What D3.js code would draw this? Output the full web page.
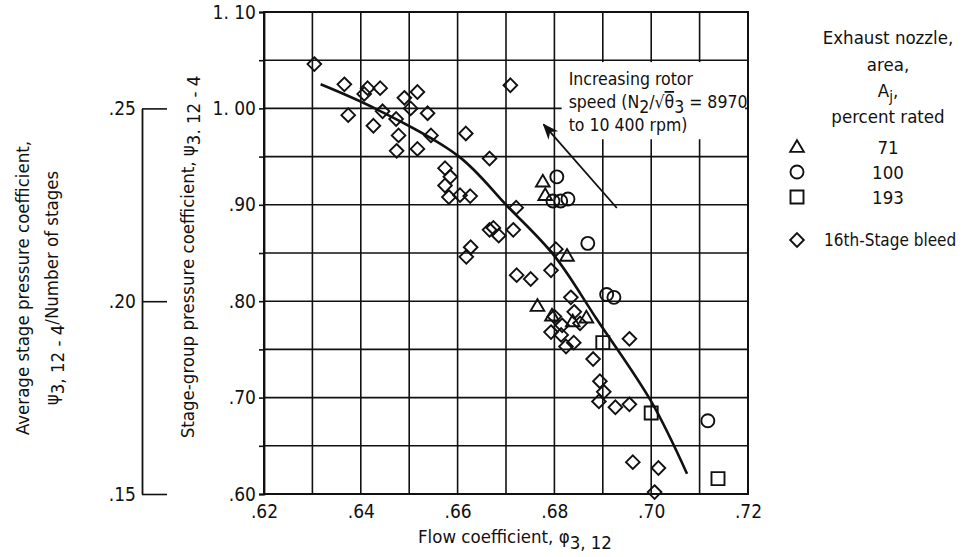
<!DOCTYPE html>
<html>
<head>
<meta charset="utf-8">
<script src="https://cdn.jsdelivr.net/npm/d3@7"></script>
<style>
  body { margin: 0; background: #fff; }
  svg text { font-family: "Liberation Sans Narrow", "DejaVu Sans Condensed", "Arial Narrow", sans-serif; fill: #111; }
</style>
</head>
<body>
<div id="chart"></div>
<script>
// exhaust nozzle area 71 % rated (triangles)
const nozzle71 = [[0.6776, 0.924], [0.6781, 0.910], [0.6826, 0.847], [0.6765, 0.795],
  [0.6795, 0.785], [0.6838, 0.779], [0.6866, 0.783]];
// 100 % rated (circles)
const nozzle100 = [[0.6805, 0.929], [0.6797, 0.904], [0.6813, 0.904], [0.6828, 0.906],
  [0.6869, 0.860], [0.6908, 0.807], [0.6923, 0.804], [0.7117, 0.676]];
// 193 % rated (squares)
const nozzle193 = [[0.6900, 0.757], [0.7000, 0.684], [0.7138, 0.616]];
// 16th-stage bleed (diamonds)
const bleed16 = [
  [0.6304, 1.046], [0.6366, 1.025], [0.6414, 1.021], [0.6407, 1.015], [0.6440, 1.021],
  [0.6490, 1.011], [0.6517, 1.017], [0.6503, 1.000], [0.6538, 0.995], [0.6374, 0.993],
  [0.6445, 0.997], [0.6473, 0.989], [0.6426, 0.982], [0.6545, 0.972], [0.6617, 0.974],
  [0.6478, 0.972], [0.6474, 0.956], [0.6517, 0.958], [0.6666, 0.948], [0.6574, 0.938],
  [0.6709, 1.024], [0.6585, 0.929], [0.6574, 0.920], [0.6582, 0.908], [0.6605, 0.910],
  [0.6626, 0.909], [0.6721, 0.897], [0.6666, 0.874], [0.6674, 0.876], [0.6685, 0.868],
  [0.6715, 0.874], [0.6627, 0.856], [0.6618, 0.846], [0.6722, 0.827], [0.6803, 0.854],
  [0.6793, 0.832], [0.6751, 0.823], [0.6834, 0.804], [0.6841, 0.789], [0.6793, 0.768],
  [0.6814, 0.765], [0.6824, 0.753], [0.6840, 0.757], [0.6853, 0.777], [0.6816, 0.775],
  [0.6800, 0.784], [0.6955, 0.761], [0.6880, 0.740], [0.6894, 0.717], [0.6902, 0.706],
  [0.6892, 0.696], [0.6926, 0.690], [0.6955, 0.693], [0.6962, 0.633], [0.7015, 0.627],
  [0.7007, 0.602]];
// faired curve
const curveFlow = [0.6317, 0.6433, 0.6603, 0.6702, 0.6800, 0.6888, 0.7000, 0.7074];
const curvePsi = [1.025, 0.999, 0.950, 0.899, 0.847, 0.781, 0.696, 0.621];
// rotor speed arrow (tail, head) and its label box
const arrowFlow = [0.6929, 0.6778];
const arrowPsi = [0.8967, 0.9832];
const noteBoxFlow = [0.6815, 0.7194];
const noteBoxPsi = [1.048, 0.968];

const xTicks = [0.62, 0.64, 0.66, 0.68, 0.70, 0.72];
const yTicks = [0.60, 0.70, 0.80, 0.90, 1.00, 1.10];
const y2Ticks = [0.15, 0.20, 0.25];

const width = 968, height = 557;
const plotLeft = 264, plotRight = 748, plotTop = 12, plotBottom = 494;
const fs = 18.5;

const svg = d3.select('#chart').append('svg')
  .attr('width', width)
  .attr('height', height);

const x = d3.scaleLinear().domain([0.62, 0.72]).range([plotLeft, plotRight]);
const y = d3.scaleLinear().domain([0.60, 1.10]).range([plotBottom, plotTop]);
// average stage coefficient = group coefficient / 4 stages
const y2 = d3.scaleLinear().domain([0.15, 0.25]).range([y(0.60), y(1.00)]);

const ink = '#111';

// grid
const grid = svg.append('g').attr('stroke', ink).attr('stroke-width', 1.6);
grid.selectAll('line.v')
  .data(d3.range(0, 11).map(i => 0.62 + i * 0.01))
  .enter().append('line')
  .attr('class', 'v')
  .attr('x1', d => x(d)).attr('x2', d => x(d))
  .attr('y1', plotTop).attr('y2', plotBottom);
grid.selectAll('line.h')
  .data(d3.range(0, 11).map(i => 0.60 + i * 0.05))
  .enter().append('line')
  .attr('class', 'h')
  .attr('y1', d => y(d)).attr('y2', d => y(d))
  .attr('x1', plotLeft).attr('x2', plotRight);
svg.append('rect')
  .attr('x', plotLeft).attr('y', plotTop)
  .attr('width', plotRight - plotLeft).attr('height', plotBottom - plotTop)
  .attr('fill', 'none').attr('stroke', ink).attr('stroke-width', 2);

// axes
const fmt = d => d >= 1 ? d.toFixed(2).replace('.', '. ') : d.toFixed(2).slice(1);

const xAxis = svg.append('g')
  .attr('transform', `translate(0,${plotBottom})`)
  .call(d3.axisBottom(x).tickValues(xTicks).tickSize(0).tickPadding(11).tickFormat(fmt));

const yAxis = svg.append('g')
  .attr('transform', `translate(${plotLeft},0)`)
  .call(d3.axisLeft(y).tickValues(d3.range(0, 11).map(i => 0.60 + i * 0.05))
    .tickSize(5).tickPadding(3)
    .tickFormat(d => yTicks.some(t => Math.abs(t - d) < 1e-6) ? fmt(d) : ''));

const y2Axis = svg.append('g')
  .attr('transform', 'translate(142,0)')
  .call(d3.axisLeft(y2).tickValues(y2Ticks).tickSize(-25).tickSizeOuter(0).tickPadding(6)
    .tickFormat(d => d.toFixed(2).slice(1)));

[xAxis, yAxis, y2Axis].forEach(a => {
  a.selectAll('text').attr('font-size', 19).style('fill', ink);
  a.selectAll('line').attr('stroke', ink).attr('stroke-width', 1.6);
  a.select('.domain').attr('stroke', ink).attr('stroke-width', 1.8);
});
xAxis.select('.domain').remove();

// text with subscripts: parts = [[string, isSub], ...]
function richText(g, parts, size) {
  const t = g.append('text').attr('font-size', size);
  let sub = false;
  parts.forEach(([s, isSub]) => {
    const ts = t.append('tspan').text(s);
    if (isSub && !sub) ts.attr('dy', 6);
    if (!isSub && sub) ts.attr('dy', -6);
    sub = isSub;
  });
  return t;
}

// axis titles
richText(svg.append('g').attr('transform', 'translate(515,543)'),
  [['Flow coefficient,  ', false], ['φ', false], ['3, 12', true]], fs)
  .attr('text-anchor', 'middle');

richText(svg.append('g').attr('transform', 'translate(194,257) rotate(-90)'),
  [['Stage-group pressure coefficient,  ', false], ['ψ', false], ['3. 12 - 4', true]], fs)
  .attr('text-anchor', 'middle');

richText(svg.append('g').attr('transform', 'translate(29,288) rotate(-90)'),
  [['Average stage pressure coefficient,', false]], fs)
  .attr('text-anchor', 'middle');
richText(svg.append('g').attr('transform', 'translate(58,288) rotate(-90)'),
  [['ψ', false], ['3, 12 - 4', true], ['/Number of stages', false]], fs)
  .attr('text-anchor', 'middle');

// markers
const S = 6.5;
const shapes = {
  triangle: `M0,${-S * 1.05}L${S * 1.05},${S * 0.75}L${-S * 1.05},${S * 0.75}Z`,
  square: `M${-S},${-S}H${S}V${S}H${-S}Z`,
  diamond: `M0,${-S * 1.05}L${S * 1.05},0L0,${S * 1.05}L${-S * 1.05},0Z`
};

function drawPoints(data, kind) {
  const g = svg.append('g').attr('fill', 'none').attr('stroke', ink).attr('stroke-width', 1.9);
  if (kind === 'circle') {
    g.selectAll('circle').data(data).enter().append('circle')
      .attr('cx', d => x(d[0])).attr('cy', d => y(d[1])).attr('r', S);
  } else {
    g.selectAll('path').data(data).enter().append('path')
      .attr('d', shapes[kind])
      .attr('transform', d => `translate(${x(d[0])},${y(d[1])})`);
  }
}

// annotation box blanks the grid behind the note
svg.append('rect')
  .attr('x', x(noteBoxFlow[0])).attr('y', y(noteBoxPsi[0]))
  .attr('width', x(noteBoxFlow[1]) - x(noteBoxFlow[0]))
  .attr('height', y(noteBoxPsi[1]) - y(noteBoxPsi[0]))
  .attr('fill', '#fff');

const note = svg.append('g').attr('transform', `translate(${x(noteBoxFlow[0]) + 7},0)`);
note.append('text').attr('y', 85).attr('font-size', 17.5).text('Increasing rotor');
const n2 = note.append('text').attr('y', 108).attr('font-size', 17.5);
n2.append('tspan').text('speed (N');
n2.append('tspan').attr('dy', 5).text('2');
n2.append('tspan').attr('dy', -5).text('/√');
n2.append('tspan').style('text-decoration', 'overline').text('θ');
n2.append('tspan').attr('dy', 5).text('3');
n2.append('tspan').attr('dy', -5).text(' = 8970');
note.append('text').attr('y', 131).attr('font-size', 17.5).text('to 10 400 rpm)');

svg.append('defs').append('marker')
  .attr('id', 'head')
  .attr('viewBox', '0 0 10 10')
  .attr('refX', 9).attr('refY', 5)
  .attr('markerWidth', 9).attr('markerHeight', 9)
  .attr('orient', 'auto')
  .append('path').attr('d', 'M0,1L10,5L0,9L3,5Z').attr('fill', ink);

svg.append('line')
  .attr('x1', x(arrowFlow[0])).attr('y1', y(arrowPsi[0]))
  .attr('x2', x(arrowFlow[1])).attr('y2', y(arrowPsi[1]))
  .attr('stroke', ink).attr('stroke-width', 1.8)
  .attr('marker-end', 'url(#head)');

// faired curve
svg.append('path')
  .datum(d3.zip(curveFlow, curvePsi))
  .attr('fill', 'none').attr('stroke', ink).attr('stroke-width', 2.6)
  .attr('d', d3.line().x(d => x(d[0])).y(d => y(d[1])).curve(d3.curveCatmullRom));

drawPoints(bleed16, 'diamond');
drawPoints(nozzle193, 'square');
drawPoints(nozzle100, 'circle');
drawPoints(nozzle71, 'triangle');

// legend
const legendTitle = ['Exhaust nozzle,', 'area,', null, 'percent rated'];
const legendLabels = ['71', '100', '193'];
const legendKinds = ['triangle', 'circle', 'square'];
const lg = svg.append('g');
legendTitle.forEach((s, i) => {
  const yy = [44, 71, 97, 123][i];
  if (s) {
    lg.append('text').attr('x', 888).attr('y', yy).attr('text-anchor', 'middle')
      .attr('font-size', fs).text(s);
  } else {
    const t = lg.append('text').attr('x', 888).attr('y', yy).attr('text-anchor', 'middle')
      .attr('font-size', fs);
    t.append('tspan').text('A');
    t.append('tspan').attr('dy', 5).attr('font-size', 15).text('j');
    t.append('tspan').attr('dy', -5).text(',');
  }
});
legendLabels.forEach((s, i) => {
  const yy = 147 + i * 25;
  lg.append('text').attr('x', 888).attr('y', yy + 7).attr('text-anchor', 'middle')
    .attr('font-size', fs).text(s);
  const k = legendKinds[i];
  if (k === 'circle') {
    lg.append('circle').attr('cx', 797).attr('cy', yy).attr('r', S)
      .attr('fill', 'none').attr('stroke', ink).attr('stroke-width', 1.9);
  } else {
    lg.append('path').attr('d', shapes[k]).attr('transform', `translate(797,${yy})`)
      .attr('fill', 'none').attr('stroke', ink).attr('stroke-width', 1.9);
  }
});
lg.append('path').attr('d', shapes.diamond).attr('transform', 'translate(797,240)')
  .attr('fill', 'none').attr('stroke', ink).attr('stroke-width', 1.9);
lg.append('text').attr('x', 824).attr('y', 246).attr('font-size', 17).text('16th-Stage bleed');
</script>
</body>
</html>
